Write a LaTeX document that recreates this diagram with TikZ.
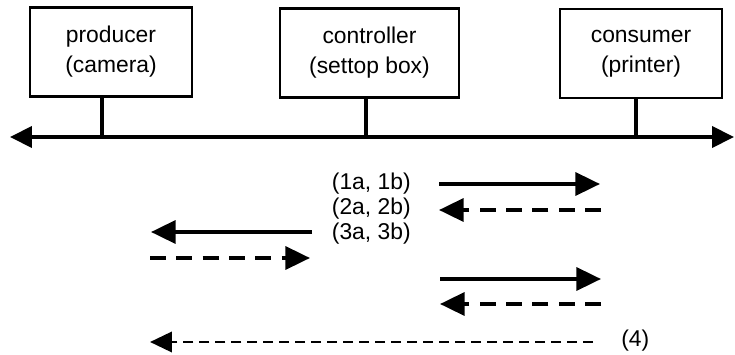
\documentclass[tikz,border=0pt]{standalone}
\usepackage{fontspec}
\setmainfont{Liberation Sans}
\usetikzlibrary{arrows.meta,positioning}

\begin{document}
\begin{tikzpicture}[x=0.02cm,y=-0.02cm]

    % Styles
    \tikzstyle{device} = [rectangle, minimum width=3.24cm, minimum height=1.78cm, align=center, draw=black, line width=1.2pt, font=\fontsize{13}{17}\selectfont]
    \tikzstyle{tag} = [inner sep=0pt, font=\fontsize{13}{15}\selectfont]
    \tikzstyle{bus} = [line width=2.1pt, {Triangle[length=12.5pt,width=12pt]}-{Triangle[length=12.5pt,width=12pt]}]
    \tikzstyle{drop} = [line width=2pt]
    \tikzstyle{request} = [line width=2.2pt, -{Triangle[length=14pt,width=13pt]}]
    \tikzstyle{answer} = [request, dash pattern=on 9pt off 6pt]
    \tikzstyle{event} = [line width=1.7pt, dash pattern=on 5.7pt off 3.4pt, -{Triangle[length=12.5pt,width=11.5pt]}]

    \useasboundingbox (0,0) rectangle (735,355);

    % Nodes
    \node (producer) [device] at (111,52) {producer\\(camera)};
    \node (controller) [device, minimum width=3.58cm] at (369.5,53) {controller\\(settop box)};
    \node (consumer) [device] at (641,53.5) {consumer\\(printer)};

    \coordinate (busL) at (10,137);
    \coordinate (busR) at (734,137);
    \coordinate (tapP) at (102,137);
    \coordinate (tapC) at (366,137);
    \coordinate (tapS) at (636,137);

    \node (l1) [tag, anchor=east] at (411,184) {(1a, 1b)};
    \node (l2) [tag, anchor=east] at (411,209) {(2a, 2b)};
    \node (l3) [tag, anchor=east] at (411,234) {(3a, 3b)};
    \node (l4) [tag, anchor=west] at (621,341) {(4)};

    \coordinate (m1a) at (439,184);  \coordinate (m1b) at (600,184);
    \coordinate (m2a) at (601,210);  \coordinate (m2b) at (439,210);
    \coordinate (m3a) at (312,232);  \coordinate (m3b) at (151,232);
    \coordinate (m4a) at (150,258);  \coordinate (m4b) at (310,258);
    \coordinate (m5a) at (440,279);  \coordinate (m5b) at (601,279);
    \coordinate (m6a) at (601,304);  \coordinate (m6b) at (440,304);
    \coordinate (m7a) at (593,342);  \coordinate (m7b) at (150,342);

    % Lines
    \draw [bus] (busL) -- (busR);
    \draw [drop] (producer.south -| tapP) -- (tapP);
    \draw [drop] (controller.south -| tapC) -- (tapC);
    \draw [drop] (consumer.south -| tapS) -- (tapS);

    % Arrows
    \draw [request] (m1a) -- (m1b);
    \draw [answer] (m2a) -- (m2b);
    \draw [request] (m3a) -- (m3b);
    \draw [answer] (m4a) -- (m4b);
    \draw [request] (m5a) -- (m5b);
    \draw [answer] (m6a) -- (m6b);
    \draw [event] (m7a) -- (m7b);

\end{tikzpicture}
\end{document}
